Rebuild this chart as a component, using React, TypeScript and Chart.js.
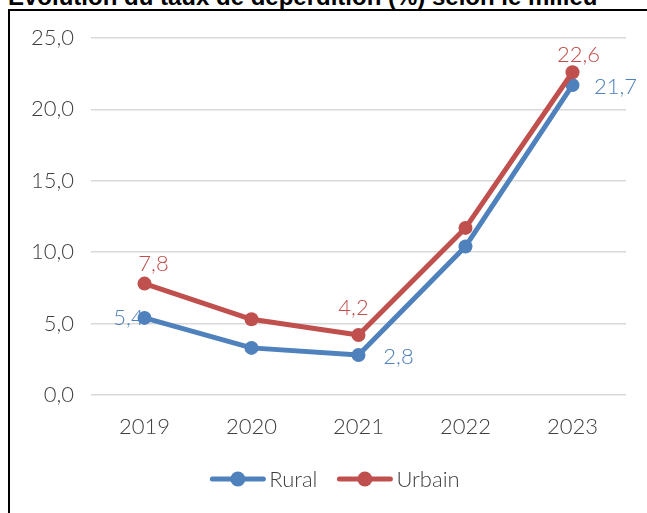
import React, { useEffect, useRef } from "react";
import { Chart, registerables } from "chart.js";

Chart.register(...registerables);

// ---- data ----
const categories = ["2019", "2020", "2021", "2022", "2023"];
const seriesNames = ["Rural", "Urbain"];
const ruralValues = [5.4, 3.3, 2.8, 10.4, 21.7];
const urbainValues = [7.8, 5.3, 4.2, 11.7, 22.6];
const yMin = 0;
const yMax = 25;
const yStep = 5;
const titleText = "Evolution du taux de déperdition (%) selon le milieu";

// ---- styling / layout (kept apart from data) ----
const BLUE = "#4F81BD";
const RED = "#C0504D";
const TEXT = "#404040";
const FONT = "Lato, 'Open Sans', sans-serif";
const FONT_SIZE = 22;
const FONT_WEIGHT = "300";
// label offsets (dx, dy of label centre relative to point); null = no label
const labelOffsets: (number[] | null)[][] = [
  [[-16, 0], null, [40, 2], null, [43, 2]],
  [[9, -20], null, [-5, -27], null, [6, -17]],
];
const LEGEND_CENTER_X = 335;
const LEGEND_Y = 479;

const fmt = (v: number) => v.toFixed(1).replace(".", ",");

const dataLabelPlugin = {
  id: "dataLabels",
  beforeDatasetsDraw(chart: any) {
    const ctx = chart.ctx;
    ctx.save();
    ctx.font = `${FONT_WEIGHT} ${FONT_SIZE}px ${FONT}`;
    ctx.textAlign = "center";
    ctx.textBaseline = "middle";
    chart.data.datasets.forEach((ds: any, di: number) => {
      const meta = chart.getDatasetMeta(di);
      meta.data.forEach((pt: any, i: number) => {
        const off = labelOffsets[di][i];
        if (!off) return;
        ctx.fillStyle = ds.borderColor;
        ctx.fillText(fmt(ds.data[i]), pt.x + off[0], pt.y + off[1]);
      });
    });
    ctx.restore();
  },
};

const legendPlugin = {
  id: "customLegend",
  afterDraw(chart: any) {
    const ctx = chart.ctx;
    ctx.save();
    ctx.font = `${FONT_WEIGHT} ${FONT_SIZE}px ${FONT}`;
    ctx.textBaseline = "middle";
    ctx.textAlign = "left";
    const marker = 55;
    const gap = 4;
    const itemGap = 20;
    const items = chart.data.datasets.map((ds: any) => ({
      color: ds.borderColor,
      label: ds.label,
      w: marker + gap + ctx.measureText(ds.label).width,
    }));
    const total =
      items.reduce((s: number, it: any) => s + it.w, 0) + itemGap * (items.length - 1);
    let x = LEGEND_CENTER_X - total / 2;
    items.forEach((it: any) => {
      ctx.strokeStyle = it.color;
      ctx.lineWidth = 5;
      ctx.lineCap = "round";
      ctx.beginPath();
      ctx.moveTo(x + 2, LEGEND_Y);
      ctx.lineTo(x + marker - 2, LEGEND_Y);
      ctx.stroke();
      ctx.fillStyle = it.color;
      ctx.beginPath();
      ctx.arc(x + marker / 2, LEGEND_Y, 7.5, 0, Math.PI * 2);
      ctx.fill();
      ctx.fillStyle = TEXT;
      ctx.fillText(it.label, x + marker + gap, LEGEND_Y + 1);
      x += it.w + itemGap;
    });
    ctx.restore();
  },
};

function LineChart() {
  const ref = useRef<HTMLCanvasElement | null>(null);
  useEffect(() => {
    if (!ref.current) return;
    const mk = (label: string, data: number[], color: string, order: number) => ({
      label,
      data,
      borderColor: color,
      backgroundColor: color,
      pointBackgroundColor: color,
      pointBorderColor: color,
      borderWidth: 5,
      pointRadius: 7,
      pointBorderWidth: 0,
      tension: 0,
      borderJoinStyle: "round" as const,
      borderCapStyle: "round" as const,
      order,
    });
    const tickFont = { family: FONT, size: FONT_SIZE, weight: FONT_WEIGHT as any };
    const chart = new Chart(ref.current, {
      type: "line",
      data: {
        labels: categories,
        datasets: [
          mk(seriesNames[0], ruralValues, BLUE, 1),
          mk(seriesNames[1], urbainValues, RED, 0),
        ],
      },
      options: {
        animation: false,
        responsive: false,
        maintainAspectRatio: false,
        layout: { padding: { left: 10, right: 21, top: 38, bottom: 0 } },
        plugins: {
          legend: { display: false },
          title: { display: false },
          tooltip: { enabled: false },
        },
        scales: {
          x: {
            type: "category",
            offset: true,
            grid: { display: false, drawTicks: false },
            border: { display: false },
            ticks: {
              color: TEXT,
              font: tickFont,
              padding: 19,
              maxRotation: 0,
            },
            afterFit(scale: any) {
              scale.height = 118;
            },
          },
          y: {
            min: yMin,
            max: yMax,
            grid: { color: "#D9D9D9", lineWidth: 1.5, drawTicks: false },
            border: { display: false },
            ticks: {
              stepSize: yStep,
              color: TEXT,
              font: tickFont,
              padding: 17,
              callback: (v: any) => fmt(Number(v)),
            },
            afterFit(scale: any) {
              scale.width = 81;
            },
          },
        },
      },
      plugins: [dataLabelPlugin, legendPlugin],
    });
    return () => chart.destroy();
  }, []);
  return (
    <canvas
      ref={ref}
      width={647}
      height={513}
      style={{ position: "absolute", left: 0, top: 0, width: 647, height: 513 }}
    />
  );
}

export default function App() {
  return (
    <div
      style={{
        position: "fixed",
        left: 0,
        top: 0,
        width: 647,
        height: 513,
        overflow: "hidden",
        background: "#fff",
      }}
    >
      <div
        style={{
          position: "absolute",
          left: 8,
          top: -15,
          fontFamily: "'Liberation Sans', Arial, sans-serif",
          fontSize: 24,
          fontWeight: "bold",
          lineHeight: "24px",
          color: "#000",
          whiteSpace: "nowrap",
        }}
      >
        {titleText}
      </div>
      <div
        style={{
          position: "absolute",
          left: 8,
          top: 9,
          width: 700,
          height: 600,
          borderLeft: "2px solid #000",
          borderTop: "2px solid #000",
        }}
      />
      <LineChart />
    </div>
  );
}
